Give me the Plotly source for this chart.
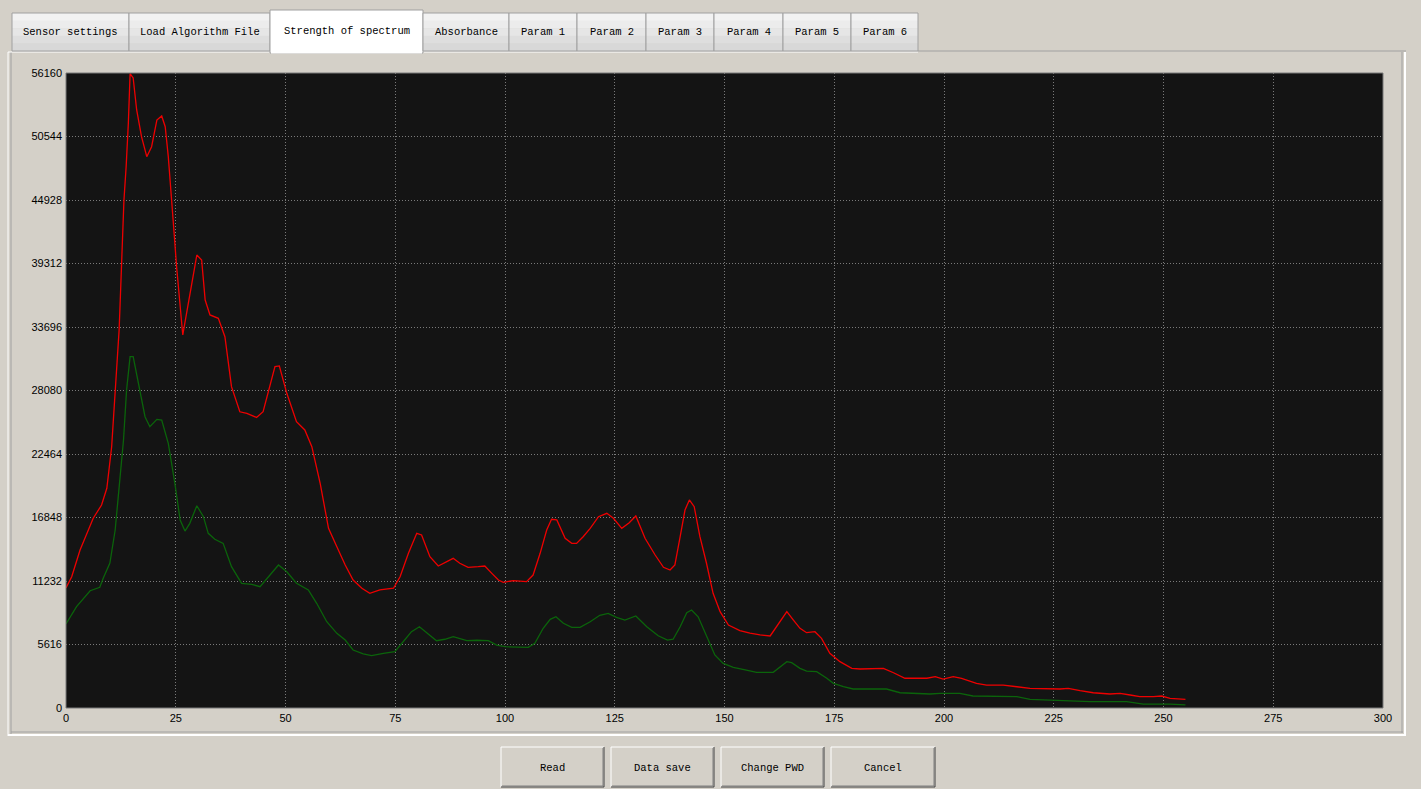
import plotly.graph_objects as go

# ---- spectrum data (channel index vs. intensity) ----
red_x = [0, 1.3, 3.2, 6.2, 8.1, 9.3, 10.4, 10.9, 11.5, 12.1, 12.3, 12.7, 13.2, 13.7, 14.2, 14.6,
         15.3, 16.1, 17.2, 18.4, 19.5, 20.7, 21.8, 22.6, 23.3, 24.4, 25.2, 26.6, 28.2, 29.8, 30.9,
         31.7, 32.8, 34.7, 36.2, 37.7, 39.6, 41.2, 43.4, 44.9, 47.6, 48.6, 50.3, 52.5, 54.4, 56.0,
         57.9, 59.8, 61.7, 63.6, 65.4, 67.4, 69.2, 71.5, 74.6, 76.1, 78.0, 79.9, 81.0, 82.9, 84.8,
         86.7, 88.2, 89.7, 91.6, 93.9, 95.4, 97.0, 98.5, 99.6, 101.9, 104.9, 106.4, 108.0, 109.5,
         110.6, 111.8, 113.7, 115.2, 116.3, 117.8, 119.4, 121.3, 123.2, 124.7, 126.6, 128.3, 129.8,
         131.9, 134.2, 136.1, 137.6, 138.7, 139.9, 141.0, 142.0, 143.1, 144.4, 145.9, 147.4, 149.0,
         150.9, 153.5, 155.8, 158.1, 160.4, 161.9, 164.2, 165.7, 167.2, 168.7, 170.6, 172.1, 174.0,
         176.3, 179.0, 180.9, 186.2, 188.5, 191.1, 196.1, 198.0, 199.8, 202.1, 204.0, 207.4, 209.7,
         213.5, 216.6, 219.6, 226.4, 228.3, 231.0, 234.0, 237.8, 240.1, 242.4, 244.6, 247.7, 249.6,
         251.5, 255.0]
red_y = [10610, 11610, 13970, 16780, 17950, 19430, 23110, 26090, 29890, 33430, 35490, 39360,
         44930, 47870, 51710, 56100, 55720, 52890, 50530, 48760, 49640, 52000, 52360, 51410, 48760,
         43160, 39000, 32990, 36380, 40060, 39620, 36080, 34760, 34460, 32840, 28420, 26200, 26060,
         25700, 26200, 30190, 30250, 27830, 25320, 24590, 23110, 19870, 15890, 14270, 12650, 11320,
         10590, 10140, 10440, 10590, 11610, 13680, 15450, 15300, 13380, 12560, 12940, 13240, 12800,
         12440, 12500, 12560, 11910, 11320, 11120, 11260, 11170, 11760, 13680, 15740, 16690, 16630,
         15010, 14560, 14560, 15150, 15890, 16920, 17220, 16780, 15890, 16390, 16980, 15010, 13530,
         12440, 12200, 12650, 15150, 17510, 18400, 17800, 15150, 12800, 10140, 8520, 7340, 6850,
         6630, 6460, 6370, 7190, 8520, 7780, 7050, 6660, 6750, 6160, 4840, 4100, 3510, 3450, 3510,
         3120, 2630, 2630, 2770, 2560, 2770, 2630, 2180, 2030, 2030, 1880, 1740, 1680, 1740, 1530,
         1350, 1240, 1300, 1150, 1000, 1000, 1060, 860, 770]

green_x = [0, 2.4, 5.5, 7.7, 8.5, 10.0, 11.2, 12.3, 13.1, 13.8, 14.6, 15.3, 16.9, 18.0, 19.1, 20.7,
           21.8, 23.3, 24.8, 26.0, 27.1, 28.2, 29.8, 31.3, 32.4, 33.9, 35.8, 37.7, 40.0, 42.3, 44.2,
           46.1, 48.4, 50.3, 52.5, 55.2, 57.1, 59.4, 61.7, 63.6, 65.4, 67.7, 69.6, 72.3, 74.9, 76.8,
           78.7, 80.5, 82.2, 84.4, 86.3, 88.2, 91.3, 93.6, 96.2, 98.1, 100.0, 103.4, 105.3, 106.8,
           108.7, 110.3, 111.6, 113.3, 115.2, 117.1, 119.4, 121.6, 123.5, 125.4, 127.3, 129.8, 132.3,
           134.9, 137.0, 138.3, 139.9, 141.4, 142.5, 144.0, 145.9, 147.8, 149.7, 152.0, 155.0, 157.3,
           161.1, 162.6, 164.2, 165.3, 167.2, 168.7, 171.0, 173.3, 174.8, 177.1, 179.3, 186.9, 190.0,
           196.8, 199.1, 203.6, 206.6, 216.6, 219.6, 233.3, 241.6, 245.4, 251.5, 255.0]
green_y = [7430, 8960, 10370, 10670, 11500, 12820, 15740, 20160, 23700, 28120, 31070, 31070, 27830,
           25760, 24880, 25530, 25470, 23410, 19870, 16630, 15650, 16330, 17890, 16920, 15450, 14920,
           14560, 12500, 11030, 10940, 10730, 11610, 12650, 12050, 11030, 10440, 9260, 7630, 6600,
           6010, 5130, 4780, 4630, 4840, 4980, 5860, 6750, 7190, 6660, 5950, 6080, 6310, 5950, 5990,
           5950, 5570, 5420, 5420, 5370, 5720, 7050, 7840, 8070, 7490, 7130, 7130, 7630, 8200, 8370,
           8020, 7780, 8140, 7190, 6390, 6010, 6080, 7190, 8430, 8670, 8070, 6310, 4690, 3950, 3600,
           3360, 3150, 3150, 3650, 4100, 4010, 3510, 3270, 3210, 2630, 2180, 1880, 1680, 1680, 1350,
           1240, 1300, 1300, 1060, 1000, 770, 560, 560, 350, 350, 270]

y_ticks = [0, 5616, 11232, 16848, 22464, 28080, 33696, 39312, 44928, 50544, 56160]
x_ticks = [0, 25, 50, 75, 100, 125, 150, 175, 200, 225, 250, 275, 300]

tab_labels = ["Sensor settings", "Load Algorithm File", "Strength of spectrum", "Absorbance",
              "Param 1", "Param 2", "Param 3", "Param 4", "Param 5", "Param 6"]
button_labels = ["Read", "Data save", "Change PWD", "Cancel"]

# ---- window geometry (pixels) ----
W, H = 1421, 789
PL, PR, PT, PB = 66, 1383, 73, 708      # plot area edges
tab_edges = [12, 129, 270, 423, 509, 577, 646, 714, 783, 851, 918]
active_tab = 2
button_edges = [(501, 604), (611, 714), (721, 824), (831, 935)]
BTN_TOP, BTN_BOT = 747, 787

FACE = "#d4d0c8"


def px(x):
    return (x - PL) / (PR - PL)


def py(y):
    return (PB - y) / (PB - PT)


shapes = []
annotations = []


def rect(x0, y0, x1, y1, fill=None, line=None, width=1, layer="above"):
    shapes.append(dict(type="rect", xref="paper", yref="paper",
                       x0=px(x0), x1=px(x1), y0=py(y1), y1=py(y0),
                       fillcolor=fill or "rgba(0,0,0,0)",
                       line=dict(color=line or "rgba(0,0,0,0)", width=width if line else 0),
                       layer=layer))


def hline(x0, x1, y, color, width=1):
    shapes.append(dict(type="line", xref="paper", yref="paper",
                       x0=px(x0), x1=px(x1), y0=py(y), y1=py(y),
                       line=dict(color=color, width=width), layer="above"))


def vline(x, y0, y1, color, width=1):
    shapes.append(dict(type="line", xref="paper", yref="paper",
                       x0=px(x), x1=px(x), y0=py(y0), y1=py(y1),
                       line=dict(color=color, width=width), layer="above"))


def label(x, y, text, size=10.5, family="Liberation Mono", color="#000000"):
    annotations.append(dict(xref="paper", yref="paper", x=px(x), y=py(y), text=text,
                            showarrow=False, xanchor="center", yanchor="middle",
                            font=dict(family=family, size=size, color=color)))


# tab page frame
vline(8, 52, 736, "#ffffff")
vline(11, 52, 734, "#a0a0a0")
hline(8, 1406, 735, "#ffffff", 2)
hline(11, 1403, 732, "#a0a0a0")
vline(1405, 52, 736, "#ffffff", 2)
vline(1402, 52, 733, "#a0a0a0")
hline(918, 1406, 51, "#a0a0a0")
hline(8, 918, 52, "#ffffff")

# tabs
for i, name in enumerate(tab_labels):
    x0, x1 = tab_edges[i], tab_edges[i + 1]
    if i == active_tab:
        rect(x0, 10, x1, 53, fill="#ffffff", line="#a0a0a0")
        hline(x0 + 1, x1 - 1, 52.5, "#ffffff", 2)
        label((x0 + x1) / 2, 31, name)
    else:
        top, bot = 13, 51
        steps = ["#f2f2f2", "#ececec", "#e6e6e6", "#dedede", "#d8d8d8"]
        h = (bot - top) / len(steps)
        for k, c in enumerate(steps):
            rect(x0, top + k * h, x1, top + (k + 1) * h + 0.3, fill=c)
        rect(x0, top, x1, bot, line="#a0a0a0")
        label((x0 + x1) / 2, 32, name)

# buttons
for (x0, x1), name in zip(button_edges, button_labels):
    rect(x0, BTN_TOP, x1, BTN_BOT, fill=FACE)
    hline(x0, x1, BTN_TOP, "#ffffff")
    vline(x0, BTN_TOP, BTN_BOT, "#ffffff")
    hline(x0, x1, BTN_BOT, "#404040")
    vline(x1, BTN_TOP, BTN_BOT, "#404040")
    hline(x0 + 1, x1 - 1, BTN_BOT - 1, "#808080")
    vline(x1 - 1, BTN_TOP + 1, BTN_BOT - 1, "#808080")
    label((x0 + x1) / 2, 768, name)

# plot border
rect(PL, PT, PR, PB, line="#7a7a7a")

fig = go.Figure()
fig.add_trace(go.Scatter(x=green_x, y=green_y, mode="lines",
                         line=dict(color="#0b640b", width=1.3), hoverinfo="skip"))
fig.add_trace(go.Scatter(x=red_x, y=red_y, mode="lines",
                         line=dict(color="#ee0000", width=1.3), hoverinfo="skip"))

axis_font = dict(family="Liberation Sans", size=11, color="#000000")
grid = dict(showgrid=True, gridcolor="#7a7a7a", griddash="1px,2px", gridwidth=1,
            zeroline=False, showline=False, ticks="", tickfont=axis_font, fixedrange=True)
fig.update_layout(
    width=W, height=H,
    margin=dict(l=PL, r=W - PR, t=PT, b=H - PB, pad=0),
    paper_bgcolor=FACE,
    plot_bgcolor="#141414",
    showlegend=False,
    shapes=shapes,
    annotations=annotations,
    xaxis=dict(range=[0, 300], tickvals=x_ticks, ticktext=[str(v) for v in x_ticks],
               ticklabelstandoff=2, **grid),
    yaxis=dict(range=[0, 56160], tickvals=y_ticks, ticktext=[str(v) for v in y_ticks],
               ticklabelstandoff=3, **grid),
)

fig.write_html("out.html", config={"displayModeBar": False})
